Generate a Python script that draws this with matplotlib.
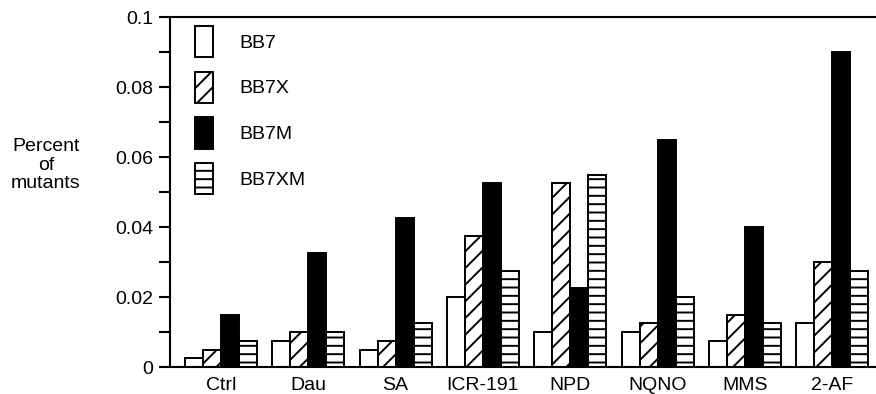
import numpy as np
import matplotlib
matplotlib.use('Agg')
import matplotlib.pyplot as plt

plt.rcParams['font.family'] = ['Liberation Sans', 'DejaVu Sans']
plt.rcParams['hatch.linewidth'] = 1.4

groups = ['Ctrl', 'Dau', 'SA', 'ICR-191', 'NPD', 'NQNO', 'MMS', '2-AF']
series = ['BB7', 'BB7X', 'BB7M', 'BB7XM']
bb7 = [0.0025, 0.0075, 0.005, 0.02, 0.01, 0.01, 0.0075, 0.0125]
bb7x = [0.005, 0.01, 0.0075, 0.0375, 0.0525, 0.0125, 0.015, 0.03]
bb7m = [0.015, 0.0325, 0.0425, 0.0525, 0.0225, 0.065, 0.04, 0.09]
bb7xm = [0.0075, 0.01, 0.0125, 0.0275, 0.055, 0.02, 0.0125, 0.0275]
ytick_vals = [0, 0.02, 0.04, 0.06, 0.08, 0.1]
ytick_labels = ['0', '0.02', '0.04', '0.06', '0.08', '0.1']

values = [bb7, bb7x, bb7m, bb7xm]
faces = ['white', 'white', 'black', 'white']
hatches = [None, '//', None, '--']

W, H = 876, 394
fig = plt.figure(figsize=(W / 100, H / 100), dpi=100)
ax = fig.add_axes([170 / W, 27 / H, 705.5 / W, 350 / H])

x = np.arange(len(groups))
w = 0.206
for k in range(4):
    ax.bar(x + (k - 1.5) * w, values[k], w, color=faces[k], edgecolor='black',
           hatch=hatches[k], linewidth=1.4, label=series[k], zorder=2)

ax.set_xlim(-0.584, 7.496)
ax.set_ylim(0, 0.1)
ax.set_xticks(x)
ax.set_xticklabels(groups, fontsize=14)
ax.tick_params(axis='x', length=0, pad=7)
ax.set_yticks(ytick_vals)
ax.set_yticklabels(ytick_labels, fontsize=14)
ax.set_yticks(np.arange(0.01, 0.1, 0.02), minor=True)
ax.tick_params(axis='y', which='both', direction='out', length=8, width=1.5, pad=4)

ax.spines['right'].set_visible(False)
for s in ['left', 'top', 'bottom']:
    ax.spines[s].set_linewidth(1.5)

fig.text(46 / W, 1 - 165 / H, 'Percent\nof\nmutants', ha='center', va='center',
         fontsize=14, linespacing=1.1)

ax.legend(loc='upper left', bbox_to_anchor=(25 / 705.5, 1 - 9 / 350), frameon=False,
          fontsize=14, handlelength=0.93, handleheight=2.1, labelspacing=0.74,
          handletextpad=1.34, borderpad=0, borderaxespad=0)

fig.savefig('out.png', dpi=100)
